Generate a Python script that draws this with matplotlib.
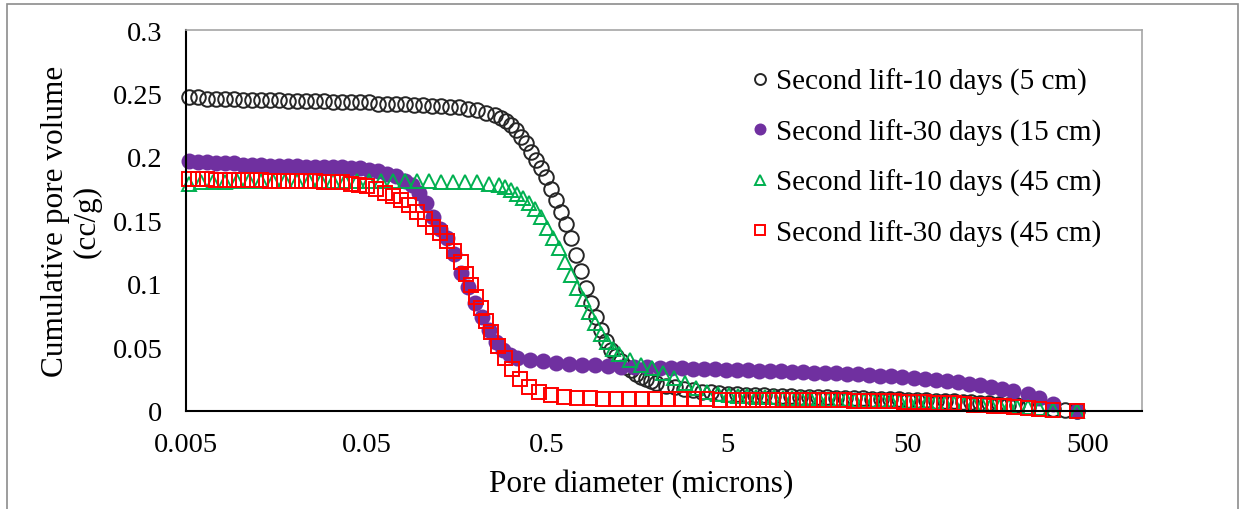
import matplotlib
matplotlib.use("Agg")
import matplotlib.pyplot as plt
from matplotlib.patches import Rectangle

# pore diameter (microns) and cumulative pore volume (cc/g)
d_10d_5cm = [0.0052, 0.00583, 0.00654, 0.00734, 0.00823, 0.00923, 0.01036, 0.01162, 0.01304, 0.01463,
             0.01641, 0.01841, 0.02065, 0.02317, 0.02599, 0.02916, 0.03271, 0.0367, 0.04117, 0.04619,
             0.05182, 0.05814, 0.06522, 0.07317, 0.08209, 0.0921, 0.1033, 0.1159, 0.13, 0.1459,
             0.1637, 0.1836, 0.206, 0.2311, 0.2593,
             0.280, 0.298, 0.318, 0.339, 0.362, 0.385, 0.411, 0.438, 0.467, 0.498,
             0.531, 0.566, 0.603, 0.643, 0.685, 0.731, 0.779, 0.830, 0.885, 0.944,
             1.006, 1.072, 1.143, 1.219, 1.299, 1.385, 1.476, 1.574, 1.678, 1.788, 1.906, 2.032,
             2.28, 2.56, 2.87, 3.22, 3.61, 4.05, 4.54, 5.09, 5.71, 6.41, 7.19, 8.06, 9.05,
             10.15, 11.38, 12.77, 14.33, 16.07, 18.03, 20.23, 22.69, 25.45, 28.55, 32.03, 35.93,
             40.31, 45.22, 50.73, 56.91, 63.84, 71.62, 80.34, 90.13, 101.1, 113.4, 127.2, 142.7,
             160.1, 179.6, 204, 232, 267, 322, 373, 435]
v_10d_5cm = [0.247, 0.247, 0.246, 0.246, 0.246, 0.246, 0.245, 0.245, 0.245, 0.245,
             0.245, 0.244, 0.244, 0.244, 0.244, 0.244, 0.243, 0.243, 0.243, 0.243,
             0.243, 0.242, 0.242, 0.242, 0.242, 0.241, 0.241, 0.240, 0.240, 0.239,
             0.239, 0.238, 0.237, 0.235, 0.233,
             0.231, 0.228, 0.225, 0.221, 0.216, 0.211, 0.204, 0.198, 0.191, 0.184,
             0.175, 0.166, 0.157, 0.147, 0.136, 0.123, 0.110, 0.097, 0.085, 0.074,
             0.064, 0.055, 0.048, 0.043, 0.039, 0.035, 0.032, 0.029, 0.027, 0.025, 0.024, 0.022,
             0.020, 0.0185, 0.0172, 0.0162, 0.0153, 0.0146, 0.014, 0.0135, 0.0131, 0.0128,
             0.0125, 0.0122, 0.012, 0.0118, 0.0116, 0.0114, 0.0112, 0.011, 0.0108, 0.0106,
             0.0104, 0.0102, 0.0100, 0.0098, 0.0096, 0.0094, 0.0092, 0.0090, 0.0088, 0.0085,
             0.0082, 0.0079, 0.0076, 0.0072, 0.0068, 0.0064, 0.006, 0.0055, 0.005,
             0.0045, 0.0035, 0.0025, 0.0015, 0.0008, 0.0]

d_30d_15cm = [0.0052, 0.00583, 0.00654, 0.00734, 0.00823, 0.00923, 0.01036, 0.01162, 0.01304, 0.01463,
              0.01641, 0.01841, 0.02065, 0.02317, 0.02599, 0.02916, 0.03271, 0.0367, 0.04117, 0.04619,
              0.05182, 0.05814, 0.06522, 0.07317, 0.08209,
              0.0898, 0.0982, 0.1074, 0.1174, 0.1284, 0.1404, 0.1535, 0.1679, 0.1836, 0.2008,
              0.2196, 0.2401, 0.2626, 0.2872, 0.3141, 0.3434,
              0.405, 0.479, 0.565, 0.667, 0.788, 0.930, 1.098, 1.297, 1.531, 1.808, 2.134,
              2.456, 2.827, 3.253, 3.744, 4.309, 4.959, 5.708, 6.569, 7.560, 8.701, 10.01,
              11.52, 13.26, 15.27, 17.57, 20.22, 23.27, 26.79, 30.83, 35.48, 40.83, 46.99,
              54.08, 62.25, 71.64, 82.45, 94.89, 109.2, 125.7, 144.6, 166.5, 191.6,
              232, 267, 322, 435]
v_30d_15cm = [0.197, 0.196, 0.196, 0.195, 0.195, 0.195, 0.194, 0.194, 0.194, 0.193,
              0.193, 0.193, 0.193, 0.192, 0.192, 0.192, 0.192, 0.192, 0.191, 0.191,
              0.190, 0.189, 0.187, 0.185, 0.181,
              0.178, 0.172, 0.164, 0.153, 0.143, 0.136, 0.124, 0.109, 0.098, 0.085,
              0.074, 0.064, 0.054, 0.048, 0.044, 0.042,
              0.040, 0.039, 0.038, 0.037, 0.0365, 0.036, 0.0355, 0.035, 0.0348, 0.0345, 0.034,
              0.0338, 0.0335, 0.0333, 0.033, 0.0328, 0.0325, 0.0323, 0.032, 0.0318, 0.0315, 0.0313,
              0.031, 0.0307, 0.0303, 0.030, 0.0296, 0.0292, 0.0288, 0.0283, 0.0278, 0.0273, 0.0267,
              0.026, 0.0253, 0.0245, 0.0236, 0.0226, 0.0215, 0.0203, 0.019, 0.0175, 0.0158,
              0.013, 0.0105, 0.0055, 0.0]

d_10d_45cm = [0.0052, 0.00606, 0.00706, 0.00823, 0.0096, 0.01119, 0.01305, 0.01521, 0.01773, 0.02067,
              0.0241, 0.0281, 0.03276, 0.03819, 0.04452, 0.0519, 0.0605, 0.07053, 0.08223, 0.09586,
              0.1118, 0.1303, 0.1519, 0.1771, 0.2064, 0.2407,
              0.273, 0.295, 0.318, 0.343, 0.371, 0.400, 0.432, 0.467, 0.504, 0.544,
              0.587, 0.634, 0.685, 0.739, 0.798, 0.862, 0.930, 1.005, 1.085, 1.171, 1.265,
              1.455, 1.675, 1.928, 2.219, 2.553, 2.939, 3.382, 3.893, 4.48, 5.156,
              5.784, 6.489, 7.279, 8.166, 9.16, 10.28, 11.53, 12.93, 14.51, 16.28,
              18.26, 20.48, 22.98, 25.78, 28.92, 32.44, 36.39, 40.82, 45.8, 51.37,
              57.63, 64.65, 72.53, 81.36, 91.27, 102.4, 114.9, 128.9, 144.6, 162.2, 181.9,
              204, 232, 267, 322, 435]
v_10d_45cm = [0.179, 0.180, 0.180, 0.180, 0.181, 0.181, 0.181, 0.181, 0.181, 0.181,
              0.181, 0.181, 0.181, 0.181, 0.181, 0.181, 0.181, 0.181, 0.181, 0.181,
              0.181, 0.180, 0.180, 0.180, 0.180, 0.179,
              0.178, 0.176, 0.174, 0.171, 0.168, 0.164, 0.159, 0.153, 0.144, 0.136,
              0.128, 0.117, 0.107, 0.097, 0.088, 0.078, 0.069, 0.061, 0.054, 0.049, 0.045,
              0.040, 0.036, 0.0335, 0.030, 0.026, 0.022, 0.018, 0.015, 0.0135, 0.0125,
              0.012, 0.0115, 0.0112, 0.011, 0.0108, 0.0106, 0.0104, 0.0102, 0.010, 0.0098,
              0.0096, 0.0094, 0.0092, 0.009, 0.0088, 0.0086, 0.0084, 0.0082, 0.008, 0.0078,
              0.0075, 0.0072, 0.0069, 0.0066, 0.0062, 0.0058, 0.0054, 0.005, 0.0046, 0.0042, 0.0038,
              0.0034, 0.0028, 0.002, 0.001, 0.0]

d_30d_45cm = [0.0052, 0.00583, 0.00654, 0.00734, 0.00823, 0.00923, 0.01036, 0.01162, 0.01304, 0.01463,
              0.01641, 0.01841, 0.02065, 0.02317, 0.02599, 0.02916, 0.03271, 0.0367, 0.04117,
              0.0456, 0.0505, 0.0567, 0.0636, 0.0704, 0.078, 0.0864, 0.0957, 0.106, 0.1174,
              0.1284, 0.1404, 0.1535, 0.1679, 0.179, 0.1908, 0.2034, 0.2168, 0.2311, 0.2464,
              0.2694, 0.2946, 0.3222, 0.3569, 0.4003, 0.4549, 0.5304, 0.6261, 0.7392, 0.8728,
              1.031, 1.217, 1.437, 1.696, 2.003, 2.365, 2.792, 3.296, 3.892, 4.595, 5.426,
              6.165, 7.006, 7.961, 9.046, 10.28, 11.68, 13.27, 15.08, 17.14, 19.47,
              22.13, 25.14, 28.57, 32.46, 36.89, 41.92, 47.63, 54.12, 61.5, 69.88,
              79.41, 90.23, 102.5, 116.5, 132.4, 150.4, 170.9, 194.2,
              232, 267, 322, 435]
v_30d_45cm = [0.183, 0.183, 0.183, 0.182, 0.182, 0.182, 0.182, 0.182, 0.182, 0.181,
              0.181, 0.181, 0.181, 0.181, 0.181, 0.180, 0.180, 0.180, 0.179,
              0.178, 0.177, 0.175, 0.172, 0.169, 0.166, 0.162, 0.157, 0.151, 0.145,
              0.140, 0.134, 0.126, 0.117, 0.108, 0.099, 0.090, 0.081, 0.071, 0.062,
              0.051, 0.042, 0.033, 0.025, 0.019, 0.015, 0.0125, 0.0112, 0.0105, 0.010,
              0.0098, 0.0096, 0.0095, 0.0094, 0.0093, 0.0092, 0.0092, 0.0091, 0.0091, 0.009, 0.009,
              0.009, 0.0089, 0.0089, 0.0088, 0.0088, 0.0087, 0.0087, 0.0086, 0.0085, 0.0084,
              0.0083, 0.0082, 0.0081, 0.008, 0.0078, 0.0076, 0.0074, 0.0071, 0.0068, 0.0065,
              0.0062, 0.0059, 0.0055, 0.0051, 0.0047, 0.0043, 0.0038, 0.0033,
              0.0025, 0.0017, 0.001, 0.0]

labels = ["Second lift-10 days (5 cm)", "Second lift-30 days (15 cm)",
          "Second lift-10 days (45 cm)", "Second lift-30 days (45 cm)"]
xticks = [0.005, 0.05, 0.5, 5, 50, 500]
xtick_labels = ["0.005", "0.05", "0.5", "5", "50", "500"]
yticks = [0, 0.05, 0.1, 0.15, 0.2, 0.25, 0.3]
ytick_labels = ["0", "0.05", "0.1", "0.15", "0.2", "0.25", "0.3"]

plt.rcParams['font.family'] = ['Liberation Serif', 'DejaVu Serif']

fig = plt.figure(figsize=(12.44, 5.10), dpi=100)
ax = fig.add_axes([0.1495, 0.1922, 0.7685, 0.7470])

ms = 10.5
ax.plot(d_10d_5cm, v_10d_5cm, 'o', ms=ms, mfc='none', mec='#262626', mew=1.4,
        label=labels[0], clip_on=False)
ax.plot(d_30d_15cm, v_30d_15cm, 'o', ms=ms + 1, mfc='#7030A0', mec='#7030A0', mew=0,
        label=labels[1], clip_on=False)
ax.plot(d_10d_45cm, v_10d_45cm, '^', ms=ms, mfc='none', mec='#00B050', mew=1.4,
        label=labels[2], clip_on=False)
ax.plot(d_30d_45cm, v_30d_45cm, 's', ms=ms - 0.5, mfc='none', mec='#FF0000', mew=1.4,
        label=labels[3], clip_on=False)

ax.set_xscale('log')
ax.set_xlim(0.005, 1000)
ax.set_ylim(0, 0.3)
ax.set_xticks(xticks)
ax.set_xticklabels(xtick_labels)
ax.set_yticks(yticks)
ax.set_yticklabels(ytick_labels)
ax.minorticks_off()
ax.tick_params(axis='both', length=0, labelsize=20.5)
ax.tick_params(axis='y', pad=17)
ax.tick_params(axis='x', pad=15)

for s in ['left', 'bottom']:
    ax.spines[s].set_color('black')
    ax.spines[s].set_linewidth(1.5)
for s in ['top', 'right']:
    ax.spines[s].set_color('#A6A6A6')
    ax.spines[s].set_linewidth(1.2)

ax.set_xlabel('Pore diameter (microns)', fontsize=22.5)
ax.xaxis.set_label_coords(0.476, -0.152)
ax.set_ylabel('Cumulative pore volume\n(cc/g)', fontsize=22.5, labelpad=8, linespacing=1.1)

ax.legend(loc='upper left', bbox_to_anchor=(0.596, 0.888), bbox_transform=fig.transFigure,
          frameon=False, fontsize=21, handlelength=0.5, handletextpad=0.3,
          labelspacing=0.8, markerscale=0.75, borderaxespad=0)

# grey outline around the whole chart
fig.patches.append(Rectangle((0.0056, -0.01), 0.9898, 1.0, transform=fig.transFigure,
                             fill=False, edgecolor='#8C8C8C', linewidth=1.2))

fig.savefig('out.png', dpi=100)
